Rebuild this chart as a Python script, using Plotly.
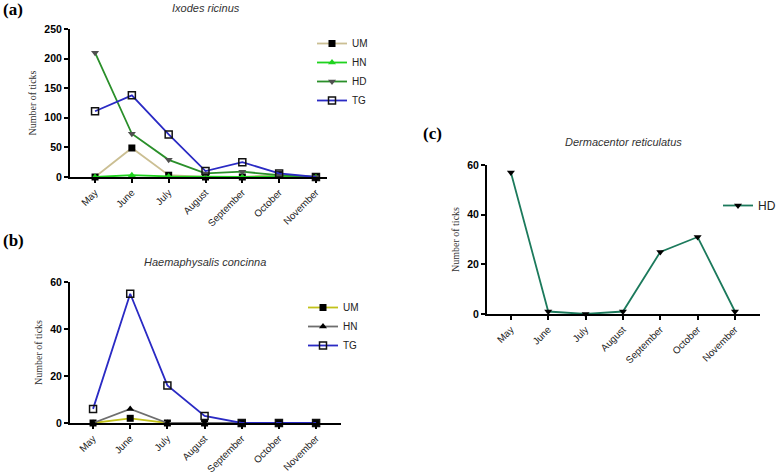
import plotly.graph_objects as go

months = ["May", "June", "July", "August", "September", "October", "November"]

# (a) Ixodes ricinus
a_UM = [0, 49, 3, 0, 0, 4, 0]
a_HN = [0, 3, 1, 0, 0, 1, 0]
a_HD = [210, 73, 29, 6, 9, 3, 0]
a_TG = [111, 138, 72, 10, 25, 6, 0]

# (b) Haemaphysalis concinna
b_UM = [0, 2, 0, 0, 0, 0, 0]
b_HN = [0, 6, 0, 0, 0, 0, 0]
b_TG = [6, 55, 16, 3, 0, 0, 0]

# (c) Dermacentor reticulatus
c_HD = [57, 1, 0, 1, 25, 31, 1]

W, H = 781, 474
def px(x): return x / W
def py(y): return 1 - y / H

fig = go.Figure()

def add(y, name, lc, sym, mc, xa, ya, leg, mline=None):
    marker = dict(symbol=sym, size=7, color=mc)
    if mline:
        marker["line"] = dict(color=mline, width=1.5)
    fig.add_trace(go.Scatter(x=list(range(len(months))), y=y, name=name, mode="lines+markers",
                             line=dict(color=lc, width=1.8), marker=marker,
                             xaxis=xa, yaxis=ya, legend=leg, cliponaxis=False))

add(a_UM, "UM", "#cbbf93", "square", "#000000", "x", "y", "legend")
add(a_HN, "HN", "#1fd31f", "triangle-up", "#1fd31f", "x", "y", "legend")
add(a_HD, "HD", "#2a8f2a", "triangle-down", "#505050", "x", "y", "legend")
add(a_TG, "TG", "#2a2ac4", "square-open", "#111111", "x", "y", "legend", mline="#111111")

add(b_UM, "UM", "#c2c21a", "square", "#000000", "x2", "y2", "legend2")
add(b_HN, "HN", "#6e6e6e", "triangle-up", "#000000", "x2", "y2", "legend2")
add(b_TG, "TG", "#2a2ac4", "square-open", "#111111", "x2", "y2", "legend2", mline="#111111")

add(c_HD, "HD", "#1c7a5c", "triangle-down", "#000000", "x3", "y3", "legend3")

xcommon = dict(tickmode="array", tickvals=list(range(7)), ticktext=months, tickangle=-45,
               showline=True, linecolor="black", linewidth=2, ticks="outside", ticklen=4,
               tickwidth=2, tickcolor="black", showgrid=False, zeroline=False,
               tickfont=dict(family="Arial, Liberation Sans", size=9.8, color="#222"))
ycommon = dict(showline=True, linecolor="black", linewidth=2, ticks="outside", ticklen=4,
               tickwidth=2, tickcolor="black", showgrid=False, zeroline=False,
               tickfont=dict(family="Arial, Liberation Sans", size=10.5, color="black", weight="bold"),
               title=dict(text="Number of ticks", font=dict(family="Times New Roman, Liberation Serif", size=10, color="#333"), standoff=6))

legfont = dict(family="Arial, Liberation Sans", size=10, color="#222")
fig.update_layout(
    width=W, height=H, margin=dict(l=0, r=0, t=0, b=0, autoexpand=False), autosize=False,
    plot_bgcolor="white", paper_bgcolor="white",
    xaxis=dict(domain=[px(70), px(327)], range=[-0.68, 6.3], anchor="y", **xcommon),
    yaxis=dict(domain=[py(177), py(29)], range=[0, 250], tickvals=[0, 50, 100, 150, 200, 250], anchor="x", **ycommon),
    xaxis2=dict(domain=[px(70), px(341)], range=[-0.62, 6.67], anchor="y2", **xcommon),
    yaxis2=dict(domain=[py(423), py(282)], range=[0, 60], tickvals=[0, 20, 40, 60], anchor="x2", **ycommon),
    xaxis3=dict(domain=[px(487), px(760)], range=[-0.64, 6.67], anchor="y3", **xcommon),
    yaxis3=dict(domain=[py(314), py(165)], range=[0, 60], tickvals=[0, 20, 40, 60], anchor="x3", **ycommon),
    legend=dict(x=px(312), y=py(29), xanchor="left", yanchor="top", font=legfont,
                bgcolor="rgba(0,0,0,0)", itemwidth=30),
    legend2=dict(x=px(303), y=py(293), xanchor="left", yanchor="top", font=legfont,
                 bgcolor="rgba(0,0,0,0)", itemwidth=30),
    legend3=dict(x=1, y=py(191), xanchor="right", yanchor="top",
                 font=dict(family="Arial, Liberation Sans", size=12, color="#222"),
                 bgcolor="rgba(0,0,0,0)", itemwidth=30),
    showlegend=True,
)

annots = [
    dict(text="<b>(a)</b>", x=px(1), y=py(10), xanchor="left", yanchor="middle", font=dict(family="Times New Roman, Liberation Serif", size=17, color="black")),
    dict(text="<b>(b)</b>", x=px(1), y=py(240), xanchor="left", yanchor="middle", font=dict(family="Times New Roman, Liberation Serif", size=17, color="black")),
    dict(text="<b>(c)</b>", x=px(421), y=py(133), xanchor="left", yanchor="middle", font=dict(family="Times New Roman, Liberation Serif", size=17, color="black")),
    dict(text="<i>Ixodes ricinus</i>", x=px(206), y=py(8), xanchor="center", yanchor="middle", font=dict(family="Arial, Liberation Sans", size=11, color="#333")),
    dict(text="<i>Haemaphysalis concinna</i>", x=px(205), y=py(262), xanchor="center", yanchor="middle", font=dict(family="Arial, Liberation Sans", size=11, color="#333")),
    dict(text="<i>Dermacentor reticulatus</i>", x=px(623), y=py(142), xanchor="center", yanchor="middle", font=dict(family="Arial, Liberation Sans", size=11, color="#333")),
]
for a in annots:
    a.update(xref="paper", yref="paper", showarrow=False)
fig.update_layout(annotations=annots)

fig.write_html("out.html", config={"displayModeBar": False},
               post_script="document.body.style.margin='0px';document.body.style.overflow='hidden';")
